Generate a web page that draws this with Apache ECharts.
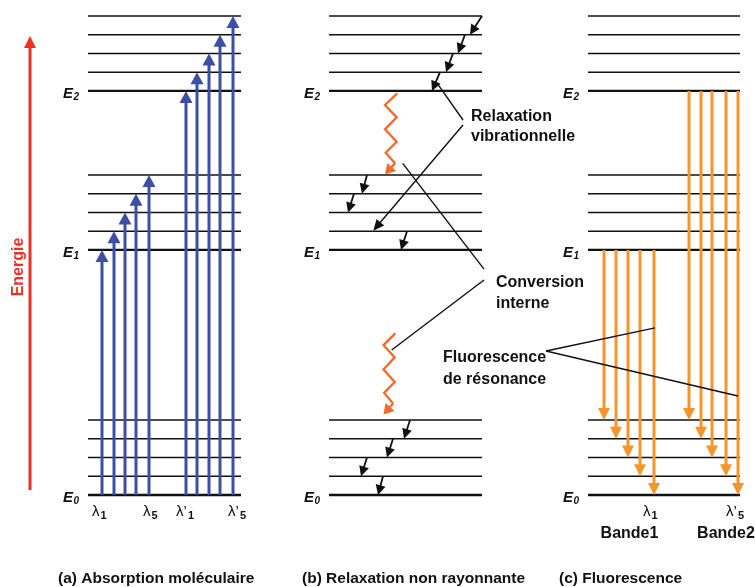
<!DOCTYPE html>
<html>
<head>
<meta charset="utf-8">
<script src="https://cdn.jsdelivr.net/npm/echarts@6/dist/echarts.min.js"></script>
<style>
  html, body { margin: 0; padding: 0; background: #fff; }
  #chart { width: 755px; height: 587px; }
</style>
</head>
<body>
<div id="chart"></div>
<script>
// ---- Electronic states: origin energy (in vibrational quanta) and sublevels ----
const stateLabels = ['0', '1', '2'];
const stateEnergy = [0, 13.07, 21.55];
const vibLevels = [0, 1, 2, 3, 4];

// Horizontal extent of the level ladder in each panel (diagram units)
const panelSpans = [[88, 241], [329, 482], [588, 740]];
const panelCaptions = ['(a) Absorption moléculaire', '(b) Relaxation non rayonnante', '(c) Fluorescence'];
const captionX = [58, 302, 559];
const captionE = -4.48;

// ---- (a) Absorption: E0(v=0) -> E1 / E2 sublevels v = 0..4 ----
const absorptionToE1X = [102, 114, 125, 136, 149];
const absorptionToE2X = [186, 197, 209, 220, 233];
const absorptionLabelMain = ['λ', 'λ', 'λ’', 'λ’'];
const absorptionLabelSub = ['1', '5', '1', '5'];
const absorptionLabelX = [92, 143, 176, 228];
const wavelengthLabelE = -0.9;

// ---- (b) Vibrational relaxation steps: [x start, state, v start, x end, v end] ----
const relaxSteps = [
  [482, 2, 4, 470, 3],
  [465, 2, 3, 458, 2],
  [453, 2, 2, 446, 1],
  [440, 2, 1, 432, 0],
  [367, 1, 4, 362, 3],
  [354, 1, 3, 348, 2],
  [407, 1, 1, 401, 0],
  [410, 0, 4, 404, 3],
  [393, 0, 3, 387, 2],
  [367, 0, 2, 361, 1],
  [383, 0, 1, 378, 0]
];
// Internal conversion (wavy arrows): [x start, E start, x tip, E tip]
const conversionPaths = [
  [397.3, 21.42, 385, 17.10],
  [395.3, 8.62, 383.5, 4.29]
];

// ---- (c) Fluorescence: v=0 of E1 (band 1) and E2 (band 2) -> E0 sublevels ----
const band1X = [604, 616, 628, 640, 654];
const band2X = [689, 701, 712, 726, 738];
const emissionTargetV = [4, 3, 2, 1, 0];
const emissionLabelMain = ['λ', 'λ’'];
const emissionLabelSub = ['1', '5'];
const emissionLabelX = [643, 726];
const bandNames = ['Bande1', 'Bande2'];
const bandCenterX = [629.5, 726];
const bandE = -2.08;

// ---- Callouts ----
const calloutLines = [
  ['Relaxation', 'vibrationnelle'],
  ['Conversion', 'interne'],
  ['Fluorescence', 'de résonance']
];
const calloutX = [471, 496, 443];
const calloutE = [[20.16, 19.09], [11.31, 10.19], [7.31, 6.13]];
// Leader lines: [x1, E1, x2, E2, arrowhead at end]
const leaders = [
  [463, 20.00, 438.3, 21.87, 0],
  [463, 19.73, 373.3, 14.10, 1],
  [484, 12.05, 402.7, 17.69, 0],
  [484, 11.47, 391.7, 7.73, 0],
  [546, 7.68, 655, 8.91, 0],
  [546, 7.68, 738, 5.28, 0]
];

// Energy axis arrow: [x, E from, E to]
const energyArrow = [30, 0.27, 24.48];
const energyLabel = { text: 'Energie', x: 18.5, E: 12.16 };

// ---- Styles ----
const FONT = '"Liberation Sans", Arial, sans-serif';
const BLUE = '#3b4fa3';
const ORANGE = '#f7952b';
const WAVY = '#f26a2c';
const RED = '#ee3124';
const INK = '#111';

function arrow(p0, p1, color, width, head, half) {
  const dx = p1[0] - p0[0], dy = p1[1] - p0[1];
  const len = Math.hypot(dx, dy);
  const ux = dx / len, uy = dy / len;
  const bx = p1[0] - ux * head, by = p1[1] - uy * head;
  const nx = -uy, ny = ux;
  return [
    { type: 'line', shape: { x1: p0[0], y1: p0[1], x2: bx + ux, y2: by + uy },
      style: { stroke: color, lineWidth: width } },
    { type: 'polygon', shape: { points: [[p1[0], p1[1]], [bx + nx * half, by + ny * half], [bx - nx * half, by - ny * half]] },
      style: { fill: color } }
  ];
}

function text(x, y, s, font, color, align, vAlign) {
  return { type: 'text', x: x, y: y,
    style: { text: s, font: font, fill: color || INK, align: align || 'left', verticalAlign: vAlign || 'middle' } };
}

// Level lines
const levelData = [];
panelSpans.forEach(span => {
  stateEnergy.forEach(e0 => {
    vibLevels.forEach(v => levelData.push([span[0], e0 + v, span[1], v === 0 ? 1 : 0]));
  });
});

// State labels (E0, E1, E2) in every panel
const stateLabelData = [];
panelSpans.forEach(span => {
  stateEnergy.forEach((e0, s) => stateLabelData.push([span[0] - 25, e0, s]));
});

// Absorption arrows
const absorptionData = [];
absorptionToE1X.forEach((x, i) => absorptionData.push([x, stateEnergy[0], stateEnergy[1] + vibLevels[i]]));
absorptionToE2X.forEach((x, i) => absorptionData.push([x, stateEnergy[0], stateEnergy[2] + vibLevels[i]]));

// Emission arrows
const emissionData = [];
band1X.forEach((x, i) => emissionData.push([x, stateEnergy[1], stateEnergy[0] + emissionTargetV[i]]));
band2X.forEach((x, i) => emissionData.push([x, stateEnergy[2], stateEnergy[0] + emissionTargetV[i]]));

// Relaxation arrows in energy units
const relaxData = relaxSteps.map(r => [r[0], stateEnergy[r[1]] + r[2], r[3], stateEnergy[r[1]] + r[4]]);

// Wavelength labels
const wlData = [];
absorptionLabelX.forEach((x, i) => wlData.push([x, wavelengthLabelE, absorptionLabelMain[i], absorptionLabelSub[i]]));
emissionLabelX.forEach((x, i) => wlData.push([x, wavelengthLabelE, emissionLabelMain[i], emissionLabelSub[i]]));

// Wiggle shape of the internal-conversion path (fractions of the path's extent)
const wiggleFy = [0, 0.144, 0.296, 0.444, 0.598, 0.733, 0.864];
const wiggleFx = [0, 1, 0.05, 1, 0.05, 0.943, 0.187];

const chart = echarts.init(document.getElementById('chart'), null, { renderer: 'canvas' });

chart.setOption({
  animation: false,
  backgroundColor: '#fff',
  grid: { left: 0, right: 0, top: 7.5, bottom: 92, containLabel: false },
  xAxis: { type: 'value', min: 0, max: 755, show: false },
  yAxis: { type: 'value', min: 0, max: 26, show: false },
  series: [
    {
      type: 'custom', name: 'levels', z: 1, clip: false,
      data: levelData,
      renderItem: (p, api) => {
        const a = api.coord([api.value(0), api.value(1)]);
        const b = api.coord([api.value(2), api.value(1)]);
        return { type: 'line', shape: { x1: a[0], y1: a[1], x2: b[0], y2: b[1] },
          style: { stroke: INK, lineWidth: api.value(3) ? 2.3 : 1.6 } };
      }
    },
    {
      type: 'custom', name: 'stateLabels', z: 3, clip: false,
      data: stateLabelData,
      renderItem: (p, api) => {
        const c = api.coord([api.value(0), api.value(1)]);
        return { type: 'group', children: [
          text(c[0], c[1] + 2.5, 'E', 'italic bold 15px ' + FONT),
          text(c[0] + 10.5, c[1] + 6.5, stateLabels[api.value(2)], 'italic bold 10px ' + FONT)
        ] };
      }
    },
    {
      type: 'custom', name: 'absorption', z: 2, clip: false,
      data: absorptionData,
      renderItem: (p, api) => {
        const a = api.coord([api.value(0), api.value(1)]);
        const b = api.coord([api.value(0), api.value(2)]);
        return { type: 'group', children: arrow(a, b, BLUE, 3, 12, 6.5) };
      }
    },
    {
      type: 'custom', name: 'emission', z: 2, clip: false,
      data: emissionData,
      renderItem: (p, api) => {
        const a = api.coord([api.value(0), api.value(1)]);
        const b = api.coord([api.value(0), api.value(2)]);
        return { type: 'group', children: arrow(a, b, ORANGE, 3, 12, 6) };
      }
    },
    {
      type: 'custom', name: 'relaxation', z: 2, clip: false,
      data: relaxData,
      renderItem: (p, api) => {
        const a = api.coord([api.value(0), api.value(1)]);
        const b = api.coord([api.value(2), api.value(3)]);
        return { type: 'group', children: arrow(a, b, INK, 1.8, 10, 5) };
      }
    },
    {
      type: 'custom', name: 'conversion', z: 2, clip: false,
      data: conversionPaths,
      renderItem: (p, api) => {
        const a = api.coord([api.value(0), api.value(1)]);
        const t = api.coord([api.value(2), api.value(3)]);
        const w = a[0] - t[0], h = t[1] - a[1];
        const pts = wiggleFy.map((fy, i) => [a[0] - wiggleFx[i] * w, a[1] + fy * h]);
        const last = pts[pts.length - 1];
        return { type: 'group', children: [
          { type: 'polyline', shape: { points: pts }, style: { stroke: WAVY, lineWidth: 2.3, fill: null, lineJoin: 'miter' } }
        ].concat(arrow(last, t, WAVY, 2.3, 10, 6)) };
      }
    },
    {
      type: 'custom', name: 'leaders', z: 2, clip: false,
      data: leaders,
      renderItem: (p, api) => {
        const a = api.coord([api.value(0), api.value(1)]);
        const b = api.coord([api.value(2), api.value(3)]);
        if (api.value(4)) return { type: 'group', children: arrow(a, b, INK, 1.4, 11, 5) };
        return { type: 'line', shape: { x1: a[0], y1: a[1], x2: b[0], y2: b[1] },
          style: { stroke: INK, lineWidth: 1.4 } };
      }
    },
    {
      type: 'custom', name: 'energyAxis', z: 2, clip: false,
      data: [energyArrow],
      renderItem: (p, api) => {
        const a = api.coord([api.value(0), api.value(1)]);
        const b = api.coord([api.value(0), api.value(2)]);
        const c = api.coord([energyLabel.x, energyLabel.E]);
        const lbl = text(c[0], c[1], energyLabel.text, 'bold 16px ' + FONT, RED, 'center', 'middle');
        lbl.rotation = Math.PI / 2;
        return { type: 'group', children: arrow(a, b, RED, 3, 12, 6).concat([lbl]) };
      }
    },
    {
      type: 'custom', name: 'wavelengths', z: 3, clip: false,
      data: wlData.map(d => [d[0], d[1]]),
      renderItem: (p, api) => {
        const c = api.coord([api.value(0), api.value(1)]);
        const d = wlData[p.dataIndex];
        const mainW = d[2].length > 1 ? 12 : 8.5;
        return { type: 'group', children: [
          text(c[0], c[1], d[2], '15px ' + FONT),
          text(c[0] + mainW, c[1] + 4.5, d[3], 'bold 11px ' + FONT)
        ] };
      }
    },
    {
      type: 'custom', name: 'callouts', z: 3, clip: false,
      data: calloutX.map((x, i) => [x, calloutE[i][0]]),
      renderItem: (p, api) => {
        const i = p.dataIndex;
        const kids = calloutLines[i].map((s, k) => {
          const c = api.coord([calloutX[i], calloutE[i][k]]);
          return text(c[0], c[1], s, 'bold 16px ' + FONT);
        });
        return { type: 'group', children: kids };
      }
    },
    {
      type: 'custom', name: 'bands', z: 3, clip: false,
      data: bandCenterX.map(x => [x, bandE]),
      renderItem: (p, api) => {
        const c = api.coord([api.value(0), api.value(1)]);
        return text(c[0], c[1], bandNames[p.dataIndex], 'bold 16px ' + FONT, INK, 'center');
      }
    },
    {
      type: 'custom', name: 'captions', z: 3, clip: false,
      data: captionX.map(x => [x, captionE]),
      renderItem: (p, api) => {
        const c = api.coord([api.value(0), api.value(1)]);
        return text(c[0], c[1], panelCaptions[p.dataIndex], 'bold 15.5px ' + FONT);
      }
    }
  ]
});
</script>
</body>
</html>
